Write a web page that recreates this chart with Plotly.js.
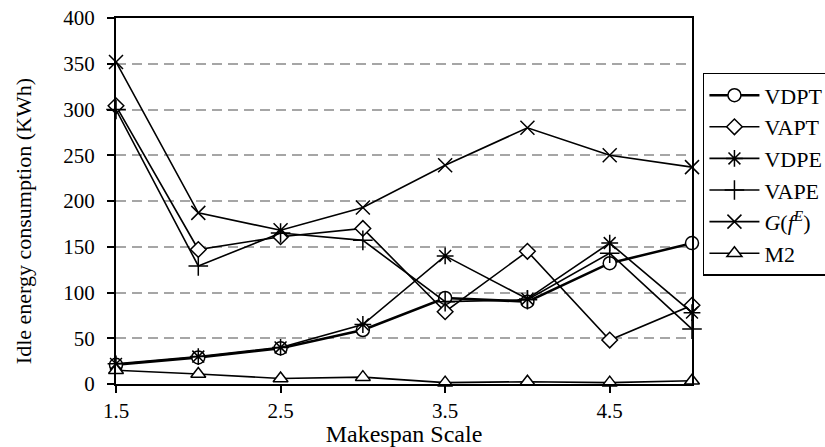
<!DOCTYPE html>
<html>
<head>
<meta charset="utf-8">
<script src="https://cdn.plot.ly/plotly-3.0.1.min.js"></script>
<style>html,body{margin:0;padding:0;background:#fff;}#chart{width:825px;height:447px;}</style>
</head>
<body>
<div id="chart"></div>
<script>
const makespan = [1.5, 2, 2.5, 3, 3.5, 4, 4.5, 5];
const vdpt = [21, 29, 39, 59, 94, 90, 132, 154];
const vapt = [304, 147, 161, 170, 79, 145, 48, 86];
const vdpe = [22, 30, 40, 65, 140, 93, 154, 78];
const vape = [300, 129, 165, 157, 90, 92, 143, 60];
const gfe = [352, 187, 168, 193, 239, 280, 250, 237];
const m2 = [15, 11, 6, 7.5, 1.5, 2.5, 1.5, 3.6];
const xTicks = [1.5, 2.5, 3.5, 4.5];
const seriesNames = ['VDPT', 'VAPT', 'VDPE', 'VAPE', '<i>G</i>(<i>f</i><sup><i>E</i></sup>)', 'M2'];

const FONT = '"Liberation Serif", "Times New Roman", serif';

function tr(y, name, symbol, size, lw, fill) {
  return {
    x: makespan, y: y, name: name, type: 'scatter', mode: 'lines+markers',
    cliponaxis: false,
    line: {color: '#000', width: lw},
    marker: {symbol: symbol, size: size, color: fill, line: {color: '#000', width: 1.5}}
  };
}

const data = [
  tr(vdpt, seriesNames[0], 'circle', 13, 2.5, '#fff'),
  tr(vapt, seriesNames[1], 'diamond', 12, 1.6, '#fff'),
  tr(vdpe, seriesNames[2], 'asterisk-open', 14, 1.6, '#000'),
  tr(vape, seriesNames[3], 'cross-thin-open', 14, 1.6, '#000'),
  tr(gfe, seriesNames[4], 'x-thin-open', 14, 1.6, '#000'),
  tr(m2, seriesNames[5], 'triangle-up', 13, 1.6, '#fff')
];

const layout = {
  width: 825, height: 447,
  margin: {l: 116, r: 133, t: 18, b: 63, autoexpand: false},
  paper_bgcolor: '#fff', plot_bgcolor: '#fff',
  font: {family: FONT, size: 21, color: '#000'},
  showlegend: true,
  legend: {
    x: 1.019, xanchor: 'left', y: 0.85, yanchor: 'top',
    bordercolor: '#000', borderwidth: 1.5, bgcolor: '#fff',
    font: {family: FONT, size: 22, color: '#000'},
    itemwidth: 50
  },
  xaxis: {
    range: [1.5, 5], tickvals: xTicks, ticktext: xTicks.map(v => v.toFixed(1)),
    ticks: 'outside', ticklen: 7, tickwidth: 2, tickcolor: '#000',
    showline: true, linecolor: '#000', linewidth: 2, mirror: true,
    showgrid: false, zeroline: false,
    tickfont: {family: FONT, size: 21},
    title: {text: 'Makespan Scale', font: {family: FONT, size: 24}, standoff: 0}
  },
  yaxis: {
    range: [0, 400], dtick: 50,
    ticks: 'outside', ticklen: 7, tickwidth: 2, tickcolor: '#000',
    showline: true, linecolor: '#000', linewidth: 2, mirror: true,
    showgrid: true, gridcolor: '#a6a6a6', gridwidth: 2, griddash: '10px,6px',
    zeroline: false,
    tickfont: {family: FONT, size: 21},
    ticklabelstandoff: 8
  },
  annotations: [{
    text: 'Idle energy consumption (KWh)', textangle: -90,
    xref: 'paper', yref: 'paper', x: 0, y: 0.445, xanchor: 'center', yanchor: 'middle',
    xshift: -93, showarrow: false, font: {family: FONT, size: 22, color: '#000'}
  }]
};

Plotly.newPlot('chart', data, layout, {displayModeBar: false, staticPlot: true});
</script>
</body>
</html>
